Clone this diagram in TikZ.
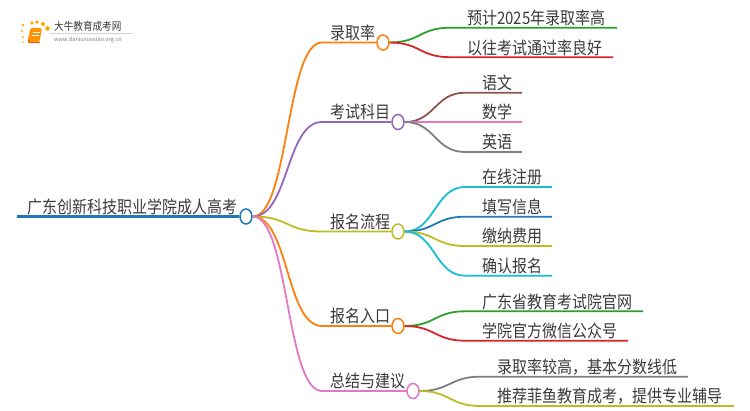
\documentclass[tikz,border=0pt]{standalone}
\usepackage{fontspec}
\setmainfont{Noto Sans CJK SC}
\usetikzlibrary{shapes.geometric}
\definecolor{cBlue}{HTML}{1F77B4}
\definecolor{cOrange}{HTML}{FF7F0E}
\definecolor{cGreen}{HTML}{2CA02C}
\definecolor{cRed}{HTML}{D62728}
\definecolor{cPurple}{HTML}{9467BD}
\definecolor{cBrown}{HTML}{8C564B}
\definecolor{cPink}{HTML}{E377C2}
\definecolor{cGray}{HTML}{7F7F7F}
\definecolor{cOlive}{HTML}{BCBD22}
\definecolor{cCyan}{HTML}{17BECF}
\definecolor{cText}{HTML}{3A3A3A}
\tikzset{
	label/.style={anchor=base west, inner sep=0pt, text=cText, font=\fontsize{15}{18}\selectfont, yshift=-0.8pt, yscale=1.15, transform shape},
	hub/.style={ellipse, draw, fill=white, line width=1.5pt, minimum width=12pt, minimum height=15pt, inner sep=0pt},
	link/.style={line width=1.8pt},
}
\begin{document}
\begin{tikzpicture}[x=1pt, y=-1pt]
		\useasboundingbox (0,0) rectangle (750,410);

		% logo
		\foreach \dotX/\dotY/\dotR in {23/42/0.8, 23/37/1, 22/31/1.2, 23/25/1.4, 32/23/1.8, 37/22/1.9, 43/24/2, 47.5/28.5/2.3}
			\fill[orange!70!yellow] (\dotX,\dotY) circle (\dotR);
		\fill[orange!85!yellow, rounded corners=1.5pt] (30.5,28) -- (42,28) -- (39.5,42) -- (27.5,42) -- cycle;
		\draw[orange!60!red, line width=0.8pt, rounded corners=1pt] (29,39) -- (28,42.5) -- (40,42.5);
		\draw[white, line width=0.5pt] (33,32) -- (40,32) (32,35) -- (39,35);
		\draw[gray!35, line width=0.4pt] (50,33.5) -- (132,33.5);
		\node[label, text=cText, font=\fontsize{9.6}{11}\selectfont] (logoName) at (54,30) {大牛教育成考网};
		\node[anchor=base west, inner sep=0pt, text=gray, font=\fontsize{5.6}{7}\selectfont] (logoUrl) at (54,41) {www.daniuxuexiao.org.cn};

		% root
		\node[label] (rootText) at (27,212.5) {广东创新科技职业学院成人高考};
		\node[hub, draw=cBlue] (hubRoot) at (246,216.5) {};
		\coordinate (rootStart) at (17,216.5);
		\draw[cBlue, line width=2.4pt] (rootStart) -- (hubRoot.west);

		% branches
		\node[label] (textScore) at (330,38.5) {录取率};
		\node[label] (textExam) at (330,118) {考试科目};
		\node[label] (textFlow) at (330,227.5) {报名流程};
		\node[label] (textEntry) at (330,322) {报名入口};
		\node[label] (textSum) at (330,387) {总结与建议};

		\node[hub, draw=cOrange] (hubScore) at (383,42.5) {};
		\node[hub, draw=cPurple] (hubExam) at (398,122) {};
		\node[hub, draw=cOlive] (hubFlow) at (398,231.5) {};
		\node[hub, draw=cOrange] (hubEntry) at (398,326) {};
		\node[hub, draw=cPink] (hubSum) at (413,391) {};

		\coordinate (bendScore) at (322,42.5);
		\coordinate (bendExam) at (322,122);
		\coordinate (bendFlow) at (322,231.5);
		\coordinate (bendEntry) at (322,326);
		\coordinate (bendSum) at (322,391);

		\draw[cOrange, link] (hubRoot.east) .. controls +(36,0) and +(-36,0) .. (bendScore) -- (hubScore.west);
		\draw[cPurple, link] (hubRoot.east) .. controls +(36,0) and +(-36,0) .. (bendExam) -- (hubExam.west);
		\draw[cOlive, link] (hubRoot.east) .. controls +(36,0) and +(-36,0) .. (bendFlow) -- (hubFlow.west);
		\draw[cOrange, link] (hubRoot.east) .. controls +(36,0) and +(-36,0) .. (bendEntry) -- (hubEntry.west);
		\draw[cPink, link] (hubRoot.east) .. controls +(36,0) and +(-36,0) .. (bendSum) -- (hubSum.west);

		% leaves
		\node[label] (textRate) at (467,23.7) {预计2025年录取率高};
		\node[label] (textPass) at (467,53.2) {以往考试通过率良好};
		\coordinate (rateA) at (450,27.7);
		\coordinate (rateB) at (617,27.7);
		\coordinate (passA) at (450,57.2);
		\coordinate (passB) at (613,57.2);
		\draw[cGreen, link] (hubScore.east) .. controls +(30,0) and +(-30,0) .. (rateA) -- (rateB);
		\draw[cRed, link] (hubScore.east) .. controls +(30,0) and +(-30,0) .. (passA) -- (passB);

		\node[label] (textChinese) at (482,88.7) {语文};
		\node[label] (textMath) at (482,118) {数学};
		\node[label] (textEnglish) at (482,148) {英语};
		\coordinate (chineseA) at (465,92.7);
		\coordinate (chineseB) at (522,92.7);
		\coordinate (mathB) at (522,122);
		\coordinate (englishA) at (465,152);
		\coordinate (englishB) at (522,152);
		\draw[cBrown, link] (hubExam.east) .. controls +(30,0) and +(-30,0) .. (chineseA) -- (chineseB);
		\draw[cPink, link] (hubExam.east) -- (mathB);
		\draw[cGray, link] (hubExam.east) .. controls +(30,0) and +(-30,0) .. (englishA) -- (englishB);

		\node[label] (textOnline) at (482,183) {在线注册};
		\node[label] (textFill) at (482,212.7) {填写信息};
		\node[label] (textFee) at (482,242) {缴纳费用};
		\node[label] (textConfirm) at (482,271.7) {确认报名};
		\coordinate (onlineA) at (465,187);
		\coordinate (onlineB) at (552,187);
		\coordinate (fillA) at (465,216.7);
		\coordinate (fillB) at (552,216.7);
		\coordinate (feeA) at (465,246);
		\coordinate (feeB) at (552,246);
		\coordinate (confirmA) at (465,275.7);
		\coordinate (confirmB) at (552,275.7);
		\draw[cCyan, link] (hubFlow.east) .. controls +(30,0) and +(-30,0) .. (onlineA) -- (onlineB);
		\draw[cBlue, link] (hubFlow.east) .. controls +(30,0) and +(-30,0) .. (fillA) -- (fillB);
		\draw[cOlive, link] (hubFlow.east) .. controls +(30,0) and +(-30,0) .. (feeA) -- (feeB);
		\draw[cCyan, link] (hubFlow.east) .. controls +(30,0) and +(-30,0) .. (confirmA) -- (confirmB);

		\node[label] (textSite) at (482,307.3) {广东省教育考试院官网};
		\node[label] (textWechat) at (482,336.7) {学院官方微信公众号};
		\coordinate (siteA) at (465,311.3);
		\coordinate (siteB) at (643,311.3);
		\coordinate (wechatA) at (465,340.7);
		\coordinate (wechatB) at (628,340.7);
		\draw[cGreen, link] (hubEntry.east) .. controls +(30,0) and +(-30,0) .. (siteA) -- (siteB);
		\draw[cRed, link] (hubEntry.east) .. controls +(30,0) and +(-30,0) .. (wechatA) -- (wechatB);

		\node[label] (textLine) at (497,372.7) {录取率较高，基本分数线低};
		\node[label] (textTutor) at (497,402) {推荐菲鱼教育成考，提供专业辅导};
		\coordinate (lineA) at (480,376.7);
		\coordinate (lineB) at (688,376.7);
		\coordinate (tutorA) at (480,406);
		\coordinate (tutorB) at (734,406);
		\draw[cGray, link] (hubSum.east) .. controls +(30,0) and +(-30,0) .. (lineA) -- (lineB);
		\draw[cOlive, link] (hubSum.east) .. controls +(30,0) and +(-30,0) .. (tutorA) -- (tutorB);
	\end{tikzpicture}
\end{document}
